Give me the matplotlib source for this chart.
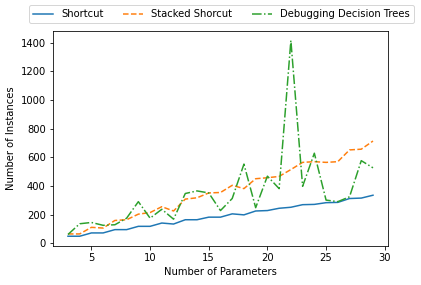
import matplotlib
matplotlib.use("Agg")
import matplotlib.pyplot as plt

params = list(range(3, 30))
shortcut = [50, 50, 73, 73, 96, 96, 119, 119, 142, 135, 165, 165, 183, 183, 206, 199,
            226, 229, 245, 252, 270, 272, 284, 286, 313, 316, 336]
stacked = [66, 66, 112, 107, 160, 165, 204, 215, 256, 226, 309, 318, 352, 355, 405, 382,
           451, 458, 467, 515, 565, 570, 565, 570, 652, 657, 714]
ddt = [62, 137, 146, 126, 130, 176, 291, 176, 238, 169, 348, 366, 352, 229, 313, 553,
       249, 469, 382, 1415, 398, 629, 302, 291, 325, 577, 527]

fig = plt.figure(figsize=(421/72, 285/72), dpi=72)
ax = fig.add_axes([0.1252, 0.1368, 0.797, 0.7554])
ax.plot(params, shortcut, '-', color='#1f77b4', lw=1.5, label='Shortcut')
ax.plot(params, stacked, '--', color='#ff7f0e', lw=1.5, label='Stacked Shorcut')
ax.plot(params, ddt, '-.', color='#2ca02c', lw=1.5, label='Debugging Decision Trees')
ax.set_xlabel('Number of Parameters')
ax.set_ylabel('Number of Instances')
ax.set_xticks([5, 10, 15, 20, 25, 30])
ax.set_yticks([0, 200, 400, 600, 800, 1000, 1200, 1400])
fig.legend(loc='upper center', bbox_to_anchor=(0.526, 1.0), ncol=3, frameon=True)
fig.savefig('out.png', dpi=72)
